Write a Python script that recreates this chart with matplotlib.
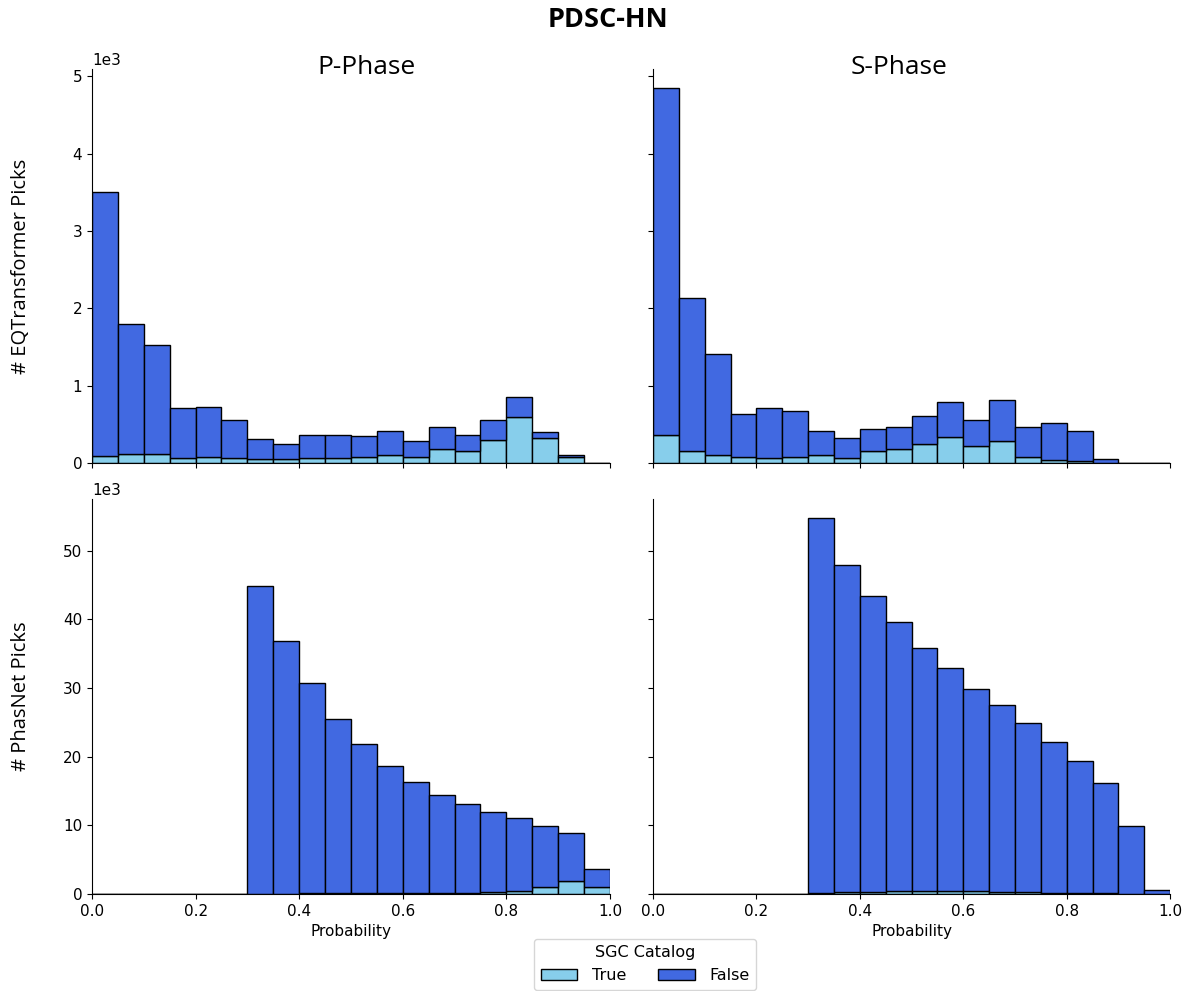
import numpy as np
import matplotlib
matplotlib.use("Agg")
import matplotlib.pyplot as plt
from matplotlib.patches import Patch

# --- DONNÉES (histogrammes des probabilités, pas de 0.05) ---
bin_edges = np.round(np.arange(0.0, 1.0, 0.05), 2)

# EQTransformer, phase P : total des picks et picks présents dans le catalogue SGC
eqt_p_total = [3500, 1800, 1530, 710, 720, 555, 305, 240, 360, 360,
               345, 410, 280, 470, 360, 550, 850, 405, 105, 0]
eqt_p_true = [86, 110, 116, 65, 73, 70, 47, 47, 65, 70,
              78, 100, 78, 180, 160, 300, 600, 320, 78, 0]

# EQTransformer, phase S
eqt_s_total = [4850, 2130, 1405, 635, 710, 670, 410, 320, 440, 460,
               610, 790, 550, 820, 465, 520, 410, 47, 0, 0]
eqt_s_true = [360, 155, 100, 73, 70, 80, 100, 70, 160, 180,
              250, 340, 220, 290, 73, 40, 20, 5, 0, 0]

# PhaseNet, phase P
pn_p_total = [0, 0, 0, 0, 0, 0, 44800, 36900, 30700, 25500,
              21800, 18700, 16300, 14400, 13100, 12000, 11100, 9900, 8900, 3600]
pn_p_true = [0, 0, 0, 0, 0, 0, 60, 70, 80, 90,
             100, 120, 140, 160, 200, 350, 450, 1000, 1900, 1000]

# PhaseNet, phase S
pn_s_total = [0, 0, 0, 0, 0, 0, 54800, 47900, 43400, 39600,
              35800, 32900, 29800, 27600, 24900, 22200, 19300, 16100, 9900, 600]
pn_s_true = [0, 0, 0, 0, 0, 0, 150, 350, 350, 400,
             400, 400, 380, 350, 300, 200, 150, 100, 60, 10]

phases = ["P-Phase", "S-Phase"]
row_labels = ["# EQTransformer Picks", "# PhasNet Picks"]
hue_labels = ["True", "False"]

COL_TRUE = "#87CEEB"
COL_FALSE = "#4169E1"
BIN_W = 0.05

plt.rcParams["font.size"] = 11

fig = plt.figure(figsize=(11.93, 9.91), dpi=100)
ax_tl = fig.add_axes([0.0771, 0.5328, 0.4342, 0.3976])
ax_tr = fig.add_axes([0.5474, 0.5328, 0.4334, 0.3976], sharey=ax_tl, sharex=ax_tl)
ax_bl = fig.add_axes([0.0771, 0.0979, 0.4342, 0.3986], sharex=ax_tl)
ax_br = fig.add_axes([0.5474, 0.0979, 0.4334, 0.3986], sharey=ax_bl, sharex=ax_tl)
axes = [[ax_tl, ax_tr], [ax_bl, ax_br]]

series = [[(eqt_p_true, eqt_p_total), (eqt_s_true, eqt_s_total)],
          [(pn_p_true, pn_p_total), (pn_s_true, pn_s_total)]]


def draw_stack(ax, true_counts, total_counts):
    """Histogramme empilé : picks catalogués en bas, les autres au-dessus."""
    true_counts = np.asarray(true_counts, dtype=float)
    false_counts = np.asarray(total_counts, dtype=float) - true_counts
    ax.bar(bin_edges, true_counts, width=BIN_W, align="edge",
           color=COL_TRUE, edgecolor="black", linewidth=1.0)
    ax.bar(bin_edges, false_counts, bottom=true_counts, width=BIN_W, align="edge",
           color=COL_FALSE, edgecolor="black", linewidth=1.0)


for r in range(2):
    for c in range(2):
        ax = axes[r][c]
        draw_stack(ax, *series[r][c])
        ax.spines["top"].set_visible(False)
        ax.spines["right"].set_visible(False)
        ax.set_xlim(0, 1)
        ax.ticklabel_format(style="sci", axis="y", scilimits=(3, 3))
        if r == 0:
            ax.tick_params(labelbottom=False)
        else:
            ax.set_xlabel("Probability")
        if c == 1:
            ax.tick_params(labelleft=False)
            ax.yaxis.get_offset_text().set_visible(False)
        else:
            ax.set_ylabel(row_labels[r], family="Open Sans", fontsize=14.5)
            ax.yaxis.set_label_coords(-0.118, 0.5)

ax_tl.set_xticks([0.0, 0.2, 0.4, 0.6, 0.8, 1.0])

# Titres
fig.text(608 / 1193, 1 - 20 / 991, "PDSC-HN", ha="center", va="center",
         family="Open Sans", fontweight="bold", fontsize=19.5)
fig.text(366 / 1193, 1 - 68 / 991, phases[0], ha="center", va="center",
         family="Open Sans", fontsize=19)
fig.text(899 / 1193, 1 - 68 / 991, phases[1], ha="center", va="center",
         family="Open Sans", fontsize=19)

# Légende commune
handles = [Patch(facecolor=COL_TRUE, edgecolor="black"),
           Patch(facecolor=COL_FALSE, edgecolor="black")]
fig.legend(handles, hue_labels, title="SGC Catalog", ncol=2,
           loc="upper center", bbox_to_anchor=(645 / 1193, 1 - 939 / 991),
           borderaxespad=0, handlelength=2.3, handletextpad=0.9,
           fontsize=11.5, title_fontsize=11.5, frameon=True)

fig.savefig("out.png", dpi=100)
